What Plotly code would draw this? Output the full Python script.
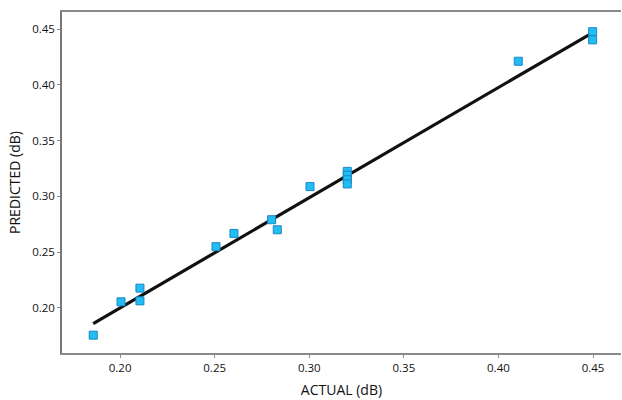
import plotly.graph_objects as go

actual = [0.1858, 0.2005, 0.2105, 0.2105, 0.2507, 0.2602, 0.2801, 0.2831, 0.3004,
          0.3201, 0.3201, 0.3201, 0.3201, 0.4105, 0.4498, 0.4498]
predicted = [0.1755, 0.2054, 0.2177, 0.2063, 0.2549, 0.2668, 0.2791, 0.2701, 0.3088,
             0.3225, 0.3190, 0.3150, 0.3112, 0.4213, 0.4478, 0.4405]
fit_x = [0.1858, 0.4490]
fit_y = [0.1859, 0.4462]
x_ticks = [0.20, 0.25, 0.30, 0.35, 0.40, 0.45]
y_ticks = [0.20, 0.25, 0.30, 0.35, 0.40, 0.45]

fig = go.Figure()
fig.add_trace(go.Scatter(x=fit_x, y=fit_y, mode="lines",
                         line=dict(color="#111111", width=3.2), showlegend=False))
fig.add_trace(go.Scatter(x=actual, y=predicted, mode="markers",
                         marker=dict(symbol="square", size=8, color="#22BDF2",
                                     line=dict(color="#1C86C4", width=1)),
                         showlegend=False))

font_family = "Open Sans, sans-serif"
fig.update_layout(
    width=622, height=400,
    margin=dict(l=62, r=1, t=12, b=47),
    paper_bgcolor="white", plot_bgcolor="white",
    font=dict(family=font_family, color="#111111"),
)
fig.update_xaxes(
    range=[0.1693, 0.4648], tickvals=x_ticks, ticktext=[f"{v:.2f}" for v in x_ticks],
    showgrid=False, zeroline=False, showline=True, linecolor="#8a8a8a", linewidth=1.5,
    mirror=True, ticks="outside", ticklen=3, tickcolor="#8a8a8a",
    tickfont=dict(size=11.5, color="#111111"),
    title=dict(text="ACTUAL (dB)", font=dict(size=14, color="#111111"), standoff=12),
)
fig.update_yaxes(
    range=[0.1595, 0.4655], tickvals=y_ticks, ticktext=[f"{v:.2f}" for v in y_ticks],
    showgrid=False, zeroline=False, showline=True, linecolor="#777777", linewidth=1.5,
    ticks="outside", ticklen=3, tickcolor="#8a8a8a",
    tickfont=dict(size=11.5, color="#111111"),
    title=dict(text="PREDICTED (dB)", font=dict(size=14, color="#111111"), standoff=8),
)
fig.write_html("out.html")
